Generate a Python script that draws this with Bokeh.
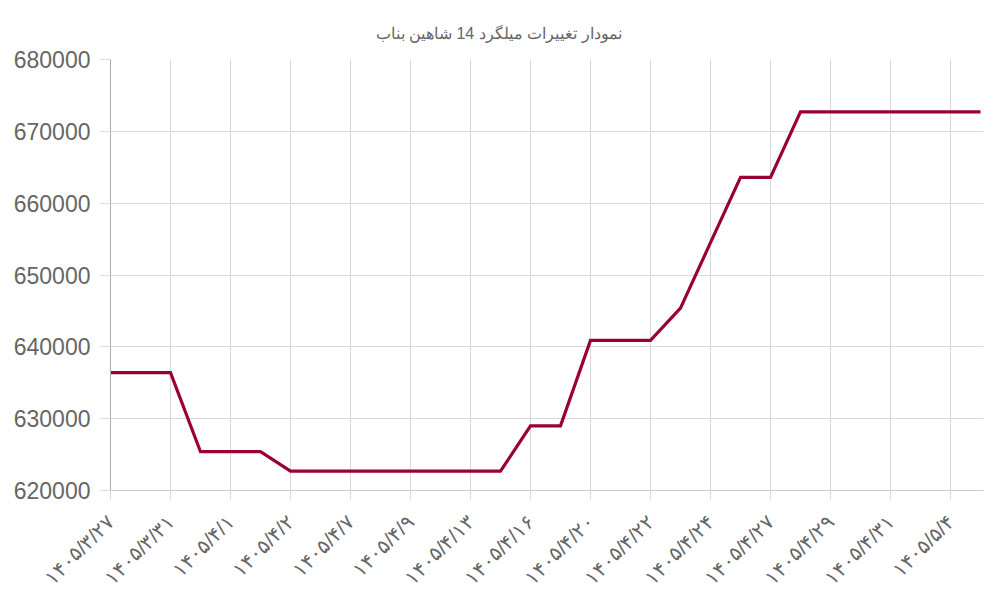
from bokeh.plotting import figure
from bokeh.models import FixedTicker, NumeralTickFormatter, Range1d
from bokeh.embed import file_html
from bokeh.resources import INLINE

title_text = "نمودار تغییرات میلگرد 14 شاهین بناب"

prices = [636400, 636400, 636400, 625400, 625400, 625400, 622700, 622700,
          622700, 622700, 622700, 622700, 622700, 622700, 629000, 629000,
          640900, 640900, 640900, 645400, 654500, 663600, 663600, 672700,
          672700, 672700, 672700, 672700, 672700, 672700]

tick_labels = ["۱۴۰۵/۳/۲۷", "۱۴۰۵/۳/۳۱", "۱۴۰۵/۴/۱", "۱۴۰۵/۴/۲", "۱۴۰۵/۴/۷",
               "۱۴۰۵/۴/۹", "۱۴۰۵/۴/۱۳", "۱۴۰۵/۴/۱۶", "۱۴۰۵/۴/۲۰", "۱۴۰۵/۴/۲۲",
               "۱۴۰۵/۴/۲۴", "۱۴۰۵/۴/۲۷", "۱۴۰۵/۴/۲۹", "۱۴۰۵/۴/۳۱", "۱۴۰۵/۵/۴"]

y_ticks = [620000, 630000, 640000, 650000, 660000, 670000, 680000]

x = list(range(len(prices)))
tick_pos = list(range(0, 2 * len(tick_labels), 2))

p = figure(width=1000, height=600, output_backend="svg", toolbar_location=None,
           x_range=Range1d(0, len(prices) - 1 + 0.1), y_range=Range1d(620000, 680000),
           min_border_left=110, min_border_right=17, min_border_top=59, min_border_bottom=110)
p.title.text = title_text
p.title.align = "left"
p.title.offset = 265
p.title.text_font = "Liberation Sans"
p.title.text_font_size = "16px"
p.title.text_font_style = "normal"
p.title.text_color = "#666666"
p.title.standoff = 36
p.outline_line_color = None

p.line(x, prices, line_color="#990033", line_width=3.2, line_join="miter")

p.xaxis.ticker = FixedTicker(ticks=tick_pos)
p.xaxis.major_label_overrides = {t: l for t, l in zip(tick_pos, tick_labels)}
p.xaxis.major_label_orientation = 0.785398
p.xaxis.major_label_text_font = "Liberation Sans"
p.xaxis.major_label_text_font_size = "20px"
p.xaxis.major_label_text_color = "#666666"
p.xaxis.axis_line_color = "#cccccc"
p.xaxis.major_tick_line_color = "#dddddd"
p.xaxis.major_tick_out = 10
p.xaxis.major_tick_in = 0
p.xaxis.minor_tick_line_color = None
p.xaxis.major_label_standoff = 18

p.yaxis.ticker = FixedTicker(ticks=y_ticks)
p.yaxis.formatter = NumeralTickFormatter(format="0")
p.yaxis.major_label_text_font = "Liberation Sans"
p.yaxis.major_label_text_font_size = "23px"
p.yaxis.major_label_text_color = "#666666"
p.yaxis.axis_line_color = "#aaaaaa"
p.yaxis.major_tick_line_color = "#dddddd"
p.yaxis.major_tick_out = 10
p.yaxis.major_tick_in = 0
p.yaxis.minor_tick_line_color = None
p.yaxis.major_label_standoff = 10

p.xgrid.grid_line_color = "#d9d9d9"
p.ygrid.grid_line_color = "#d9d9d9"

open("out.html", "w").write(file_html(p, INLINE))
